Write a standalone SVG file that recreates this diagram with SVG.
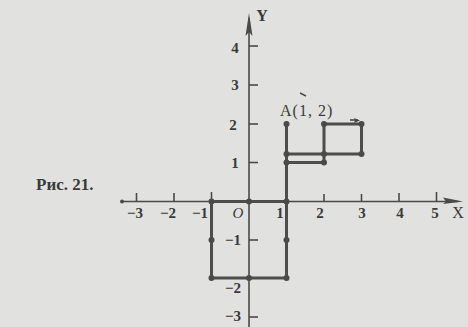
<svg xmlns="http://www.w3.org/2000/svg" width="468" height="327" viewBox="0 0 468 327">
<style>
.ax{stroke:#4a4a4a;stroke-width:1.6;fill:none}
.tk{stroke:#4a4a4a;stroke-width:1.6;fill:none}
.ln{stroke:#4d4d4d;stroke-width:3;fill:none;stroke-linecap:round}
.pt{fill:#4a4a4a}
.lb{font-family:"Liberation Serif","DejaVu Serif",serif;font-size:15px;font-weight:bold;fill:#3a3a3a}
.it{font-style:italic;font-weight:normal}
.hd{fill:#4a4a4a}
</style>
<rect width="468" height="327" fill="#e1e1df"/>
<g id="axes">
<line class="ax" x1="122" y1="201.5" x2="458" y2="201.5"/>
<polygon class="hd" points="463,201.5 443,197.5 446,201.5 443,204"/>
<circle class="pt" cx="122" cy="201.5" r="2"/>
<line class="ax" x1="249" y1="18" x2="249" y2="327"/>
<polygon class="hd" points="249,13 245.5,36 249,32 252.5,36"/>
<g id="xticks">
<line class="tk" x1="136.5" y1="193" x2="136.5" y2="201.5"/>
<line class="tk" x1="174" y1="193" x2="174" y2="201.5"/>
<line class="tk" x1="211.5" y1="192" x2="211.5" y2="201.5"/>
<line class="tk" x1="324" y1="194" x2="324" y2="201.5"/>
<line class="tk" x1="361.5" y1="194" x2="361.5" y2="201.5"/>
<line class="tk" x1="399" y1="193" x2="399" y2="201.5"/>
<line class="tk" x1="436.5" y1="192" x2="436.5" y2="201.5"/>
</g>
<g id="yticks">
<line class="tk" x1="249" y1="46" x2="258" y2="46"/>
<line class="tk" x1="249" y1="85" x2="258" y2="85"/>
<line class="tk" x1="249" y1="124" x2="258" y2="124"/>
<line class="tk" x1="249" y1="162.5" x2="258" y2="162.5"/>
<line class="tk" x1="249" y1="240" x2="258" y2="240"/>
<line class="tk" x1="249" y1="317" x2="258" y2="317"/>
</g>
</g>
<g id="connectors">
<polyline class="ln" points="286.5,124 286.5,278 211.5,278 211.5,201.5 286.5,201.5"/>
<polyline class="ln" points="286.5,154 361.5,154 361.5,124 324,124 324,162.5 286.5,162.5"/>
<line class="tk" x1="350" y1="120" x2="358" y2="120"/>
<polygon class="hd" points="360,120.5 354,118 355,120.5 354,123"/>
<path d="M300,93 L306,96" stroke="#4a4a4a" stroke-width="1.5" fill="none"/>
</g>
<g id="points">
<circle class="pt" cx="286.5" cy="124" r="3"/>
<circle class="pt" cx="286.5" cy="154" r="3"/>
<circle class="pt" cx="324" cy="154" r="3"/>
<circle class="pt" cx="324" cy="124" r="3"/>
<circle class="pt" cx="361.5" cy="124" r="3"/>
<circle class="pt" cx="361.5" cy="154" r="3"/>
<circle class="pt" cx="286.5" cy="162.5" r="3"/>
<circle class="pt" cx="324" cy="162.5" r="3"/>
<circle class="pt" cx="211.5" cy="201.5" r="3"/>
<circle class="pt" cx="249" cy="201.5" r="3"/>
<circle class="pt" cx="286.5" cy="201.5" r="3"/>
<circle class="pt" cx="211.5" cy="240" r="3"/>
<circle class="pt" cx="286.5" cy="240" r="3"/>
<circle class="pt" cx="211.5" cy="278" r="3"/>
<circle class="pt" cx="249" cy="278" r="3"/>
<circle class="pt" cx="286.5" cy="278" r="3"/>
</g>
<g id="labels">
<text class="lb" x="36" y="190" style="font-size:17px">Рис. 21.</text>
<text class="lb" x="135" y="218" text-anchor="middle">−3</text>
<text class="lb" x="168" y="218" text-anchor="middle">−2</text>
<text class="lb" x="200" y="218" text-anchor="middle">−1</text>
<text class="lb it" x="238" y="218" text-anchor="middle">O</text>
<text class="lb" x="280" y="218" text-anchor="middle">1</text>
<text class="lb" x="320" y="218" text-anchor="middle">2</text>
<text class="lb" x="362" y="218" text-anchor="middle">3</text>
<text class="lb" x="400" y="218" text-anchor="middle">4</text>
<text class="lb" x="435" y="218" text-anchor="middle">5</text>
<text class="lb" x="458" y="218" text-anchor="middle" style="font-weight:normal;font-size:16px">X</text>
<text class="lb" x="262" y="21" text-anchor="middle" style="font-size:16px">Y</text>
<text class="lb" x="235" y="53" text-anchor="middle">4</text>
<text class="lb" x="235" y="90" text-anchor="middle">3</text>
<text class="lb" x="233" y="130" text-anchor="middle">2</text>
<text class="lb" x="235" y="168" text-anchor="middle">1</text>
<text class="lb" x="233" y="245" text-anchor="middle">−1</text>
<text class="lb" x="233" y="293" text-anchor="middle">−2</text>
<text class="lb" x="233" y="321" text-anchor="middle">−3</text>
<text class="lb" x="280" y="116" style="font-weight:normal;font-size:16px;letter-spacing:1px">A(1, 2)</text>
</g>
</svg>
